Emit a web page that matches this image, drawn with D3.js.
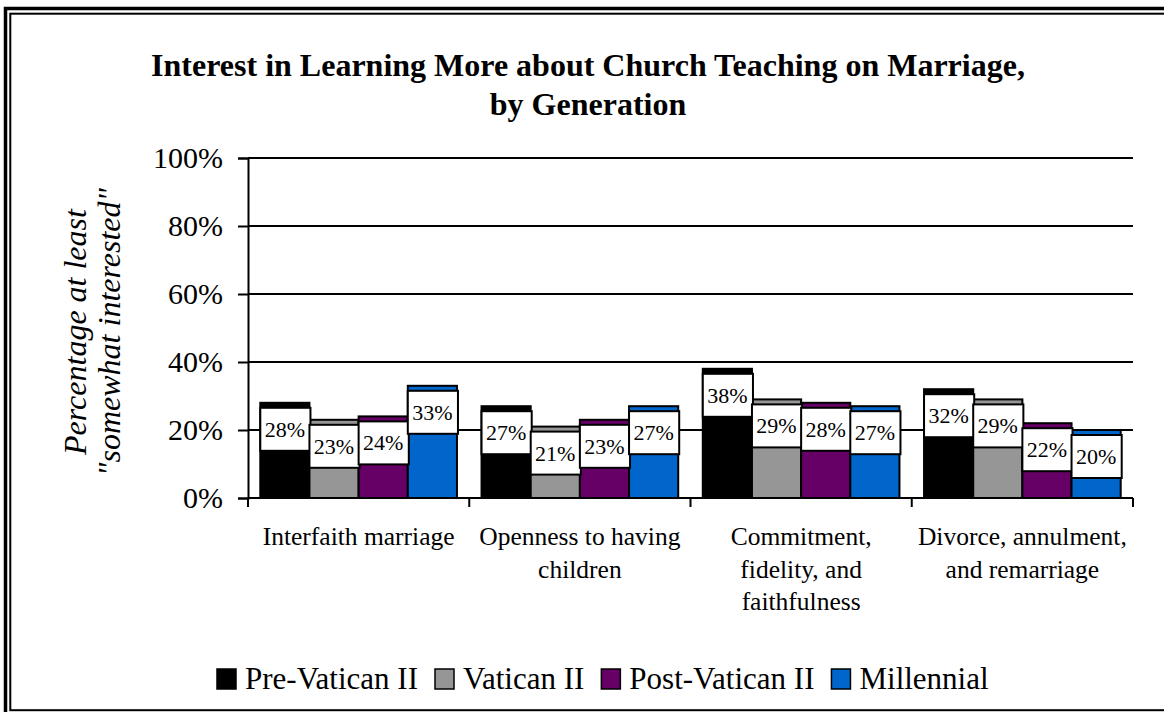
<!DOCTYPE html>
<html>
<head>
<meta charset="utf-8">
<style>
  body { margin: 0; background: #fff; }
  svg { display: block; font-family: "Liberation Serif", "Times New Roman", serif; }
</style>
</head>
<body>
<svg width="1164" height="712"></svg>
<script src="https://d3js.org/d3.v7.min.js"></script>
<script>

// data
var categories = ["Interfaith marriage", "Openness to having children",
                  "Commitment, fidelity, and faithfulness", "Divorce, annulment, and remarriage"];
var categoryLines = [["Interfaith marriage"], ["Openness to having", "children"],
                     ["Commitment,", "fidelity, and", "faithfulness"], ["Divorce, annulment,", "and remarriage"]];
var series = ["Pre-Vatican II", "Vatican II", "Post-Vatican II", "Millennial"];
var preVatican  = [0.28, 0.27, 0.38, 0.32];
var vatican     = [0.23, 0.21, 0.29, 0.29];
var postVatican = [0.24, 0.23, 0.28, 0.22];
var millennial  = [0.33, 0.27, 0.27, 0.20];
var colors = ["#000000", "#969696", "#660066", "#0066cc"];
var yTicks = [0, 0.2, 0.4, 0.6, 0.8, 1];

var seriesValues = [preVatican, vatican, postVatican, millennial];
var serif = "\"Liberation Serif\", \"Times New Roman\", serif";

var svg = d3.select("svg"),
    plot = {left: 248, right: 1133, top: 158, bottom: 498};

// double frame (right and bottom outer edges fall outside the picture)
svg.append("rect")
    .attr("x", 5.5).attr("y", 8.5).attr("width", 1170).attr("height", 712)
    .attr("fill", "none").attr("stroke", "#000").attr("stroke-width", 3.5);
svg.append("rect")
    .attr("x", 10.3).attr("y", 13.7).attr("width", 1170).attr("height", 696.5)
    .attr("fill", "none").attr("stroke", "#000").attr("stroke-width", 2);

// title
var title = svg.append("text")
    .attr("text-anchor", "middle")
    .attr("font-weight", "bold")
    .attr("font-size", 32);
title.append("tspan").attr("x", 588).attr("y", 76).text("Interest in Learning More about Church Teaching on Marriage,");
title.append("tspan").attr("x", 588).attr("y", 115).text("by Generation");

var x0 = d3.scaleBand()
    .domain(categories)
    .range([plot.left, plot.right]);

var x1 = d3.scaleBand()
    .domain(series)
    .range([0, x0.bandwidth()])
    .paddingOuter(0.25);

var y = d3.scaleLinear()
    .domain([0, 1])
    .range([plot.bottom, plot.top]);

// grid lines
svg.append("g").selectAll("line")
    .data(yTicks.slice(1))
  .enter().append("line")
    .attr("x1", plot.left).attr("x2", plot.right)
    .attr("y1", function(d) { return y(d); })
    .attr("y2", function(d) { return y(d); })
    .attr("stroke", "#000").attr("stroke-width", 2);

// bars
var rows = [];
categories.forEach(function(c, i) {
  series.forEach(function(s, j) {
    rows.push({cat: c, ser: s, value: seriesValues[j][i], color: colors[j]});
  });
});

var bars = svg.append("g");
bars.selectAll("rect")
    .data(rows)
  .enter().append("rect")
    .attr("x", function(d) { return x0(d.cat) + x1(d.ser); })
    .attr("y", function(d) { return y(d.value); })
    .attr("width", x1.bandwidth())
    .attr("height", function(d) { return y(0) - y(d.value); })
    .attr("fill", function(d) { return d.color; })
    .attr("stroke", "#000").attr("stroke-width", 2);

// data labels in white boxes
var labels = svg.append("g").selectAll("g")
    .data(rows)
  .enter().append("g")
    .attr("transform", function(d) {
      return "translate(" + (x0(d.cat) + x1(d.ser)) + "," + (y(d.value) + 5) + ")";
    });

labels.append("rect")
    .attr("width", x1.bandwidth() + 1)
    .attr("height", 43)
    .attr("fill", "#fff")
    .attr("stroke", "#000").attr("stroke-width", 2);

labels.append("text")
    .attr("x", x1.bandwidth() / 2)
    .attr("y", 29)
    .attr("text-anchor", "middle")
    .attr("font-size", 22)
    .text(function(d) { return d3.format(".0%")(d.value); });

// y axis
var yAxis = svg.append("g")
    .attr("transform", "translate(" + plot.left + ",0)")
    .call(d3.axisLeft(y).tickValues(yTicks).tickSize(10).tickPadding(15).tickFormat(d3.format(".0%")));
yAxis.attr("font-family", serif);
yAxis.selectAll("text").attr("font-size", 30).attr("fill", "#000");
yAxis.selectAll("line, path").attr("stroke", "#000").attr("stroke-width", 2);

// x axis
svg.append("line")
    .attr("x1", plot.left).attr("x2", plot.right)
    .attr("y1", y(0)).attr("y2", y(0))
    .attr("stroke", "#000").attr("stroke-width", 2);

var bounds = categories.map(function(c) { return x0(c); }).concat([x0.range()[1]]);
svg.append("g").selectAll("line")
    .data(bounds)
  .enter().append("line")
    .attr("x1", function(d) { return d; }).attr("x2", function(d) { return d; })
    .attr("y1", y(0)).attr("y2", y(0) + 9)
    .attr("stroke", "#000").attr("stroke-width", 2);

var catText = svg.append("g").selectAll("text")
    .data(categories)
  .enter().append("text")
    .attr("text-anchor", "middle")
    .attr("font-size", 25.5);

catText.each(function(c, i) {
  var t = d3.select(this);
  categoryLines[i].forEach(function(line, k) {
    t.append("tspan")
        .attr("x", x0(c) + x0.bandwidth() / 2)
        .attr("y", 545 + k * 32.5)
        .text(line);
  });
});

// y axis title
var yTitle = svg.append("text")
    .attr("transform", "translate(0,332) rotate(-90)")
    .attr("text-anchor", "middle")
    .attr("font-style", "italic")
    .attr("font-size", 32);
yTitle.append("tspan").attr("x", 0).attr("y", 86).text("Percentage at least");
yTitle.append("tspan").attr("x", 0).attr("y", 120).text("\"somewhat interested\"");

// legend
var legend = svg.append("g");
var lx = 216;
series.forEach(function(s, j) {
  legend.append("rect")
      .attr("x", lx + 1).attr("y", 669)
      .attr("width", 19).attr("height", 20)
      .attr("fill", colors[j])
      .attr("stroke", "#000").attr("stroke-width", 1.5);
  var t = legend.append("text")
      .attr("x", lx + 29).attr("y", 689)
      .attr("font-size", 31)
      .text(s);
  lx = lx + 29 + t.node().getComputedTextLength() + 16;
});

</script>
</body>
</html>
